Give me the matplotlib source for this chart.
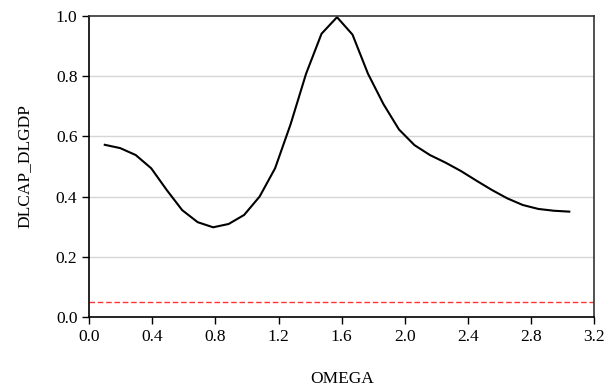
import numpy as np
import matplotlib
matplotlib.use("Agg")
import matplotlib.pyplot as plt

# frequency grid: k*pi/32, k = 1..31
omega = np.arange(1, 32) * np.pi / 32
coh = [0.572, 0.561, 0.538, 0.494, 0.422, 0.355, 0.315, 0.298, 0.309, 0.339,
       0.400, 0.494, 0.640, 0.808, 0.941, 0.996, 0.938, 0.808, 0.707, 0.623,
       0.571, 0.538, 0.513, 0.485, 0.453, 0.422, 0.394, 0.372, 0.359, 0.353,
       0.350]
crit = 0.05

xticks = [0.0, 0.4, 0.8, 1.2, 1.6, 2.0, 2.4, 2.8, 3.2]
yticks = [0.0, 0.2, 0.4, 0.6, 0.8, 1.0]

plt.rcParams['font.family'] = ['Liberation Serif', 'DejaVu Serif']

fig = plt.figure(figsize=(6.14, 3.92), dpi=100)
ax = fig.add_axes([0.1454, 0.1913, 0.822, 0.768])

for y in yticks[1:-1]:
    ax.axhline(y, color='#d6d6d6', lw=1, zorder=0)
ax.plot(omega, coh, color='black', lw=1.5)
ax.axhline(crit, color='#ff3333', lw=1, ls=(0, (4, 2)))

ax.set_xlim(0, 3.2)
ax.set_ylim(0, 1.0)
ax.set_xticks(xticks)
ax.set_yticks(yticks)
ax.set_xticklabels(['%.1f' % v for v in xticks])
ax.set_yticklabels(['%.1f' % v for v in yticks])
ax.tick_params(direction='out', length=5, width=1, colors='black', labelsize=12.5)
for s in ['left', 'bottom']:
    ax.spines[s].set_linewidth(1.2)
for s in ['top', 'right']:
    ax.spines[s].set_color('#333333')
    ax.spines[s].set_linewidth(1.2)

ax.set_xlabel('OMEGA', fontsize=12.5, labelpad=19)
ax.set_ylabel('DLCAP_DLGDP', fontsize=12.5, labelpad=17)

fig.savefig('out.png', dpi=100)
